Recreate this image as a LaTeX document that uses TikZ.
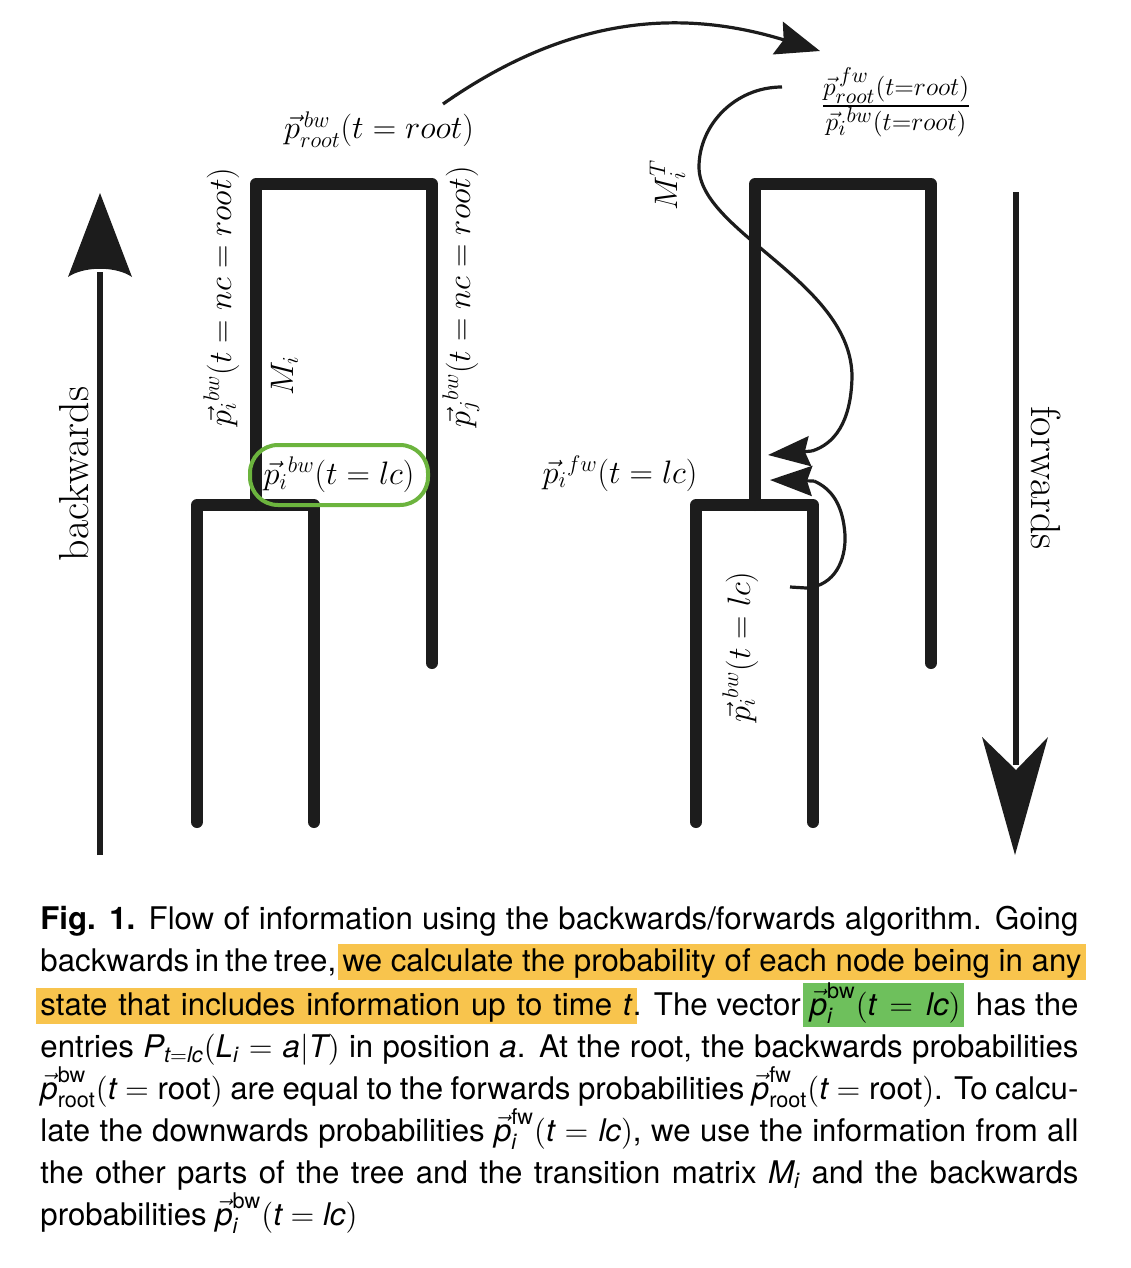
\documentclass[tikz,border=0pt]{standalone}
\usepackage{amsmath}
\usepackage{fontspec}
\newfontfamily\capfont{TeX Gyre Heros}
\usetikzlibrary{arrows.meta}
\definecolor{ink}{RGB}{28,28,28}
\definecolor{hlorange}{RGB}{248,196,77}
\definecolor{hlgreen}{RGB}{110,192,92}
\definecolor{boxgreen}{RGB}{108,180,62}
\newcommand\hlo[2][0pt]{\setbox0\hbox spread #1{#2}\rlap{\color{hlorange}\kern-2pt\rule[-4.2pt]{\dimexpr\wd0+4pt\relax}{16.6pt}}\box0}
\newcommand\hlg[2][0pt]{\setbox0\hbox spread #1{#2}\rlap{\color{hlgreen}\kern-3pt\rule[-5.5pt]{\dimexpr\wd0+4.5pt\relax}{20.3pt}}\box0}
\newcommand\jline[1]{\hbox to \hsize{#1}}
\newcommand\cp{\vec{\textit{p}}}
\newcommand\ci[1]{\textit{#1}}
\tikzset{
  tree/.style={ink, line width=6pt, line cap=round, line join=round},
  thinline/.style={ink, line width=1.6pt},
  bigshaft/.style={ink, line width=3pt},
  lbl/.style={inner sep=0pt, font=\fontsize{17.28}{21}\selectfont, scale=0.94},
  word/.style={inner sep=0pt, font=\fontsize{21}{24}\selectfont},
  smallhead/.style={-{Stealth[length=21pt,width=15pt,inset=2.5pt]}},
}
\begin{document}
\begin{tikzpicture}[x=0.5pt,y=-0.5pt]
\useasboundingbox (0,0) rectangle (1130,1268);

% ---------- left tree ----------
\draw[tree] (256,505) -- (256,184) -- (432,184) -- (432,663);
\draw[tree] (197,822) -- (197,505) -- (314,505) -- (314,822);
% ---------- right tree ----------
\draw[tree] (755,505) -- (755,184) -- (931,184) -- (931,663);
\draw[tree] (696,822) -- (696,505) -- (813,505) -- (813,822);

% ---------- big arrows ----------
\coordinate (bwS) at (100,855);
\coordinate (bwE) at (100,272);
\draw[bigshaft] (bwS) -- (bwE);
\fill[ink] (100,193) -- (132,277) .. controls (116,266) and (84,266) .. (68,277) -- cycle;

\coordinate (fwS) at (1016,192);
\coordinate (fwE) at (1016,765);
\draw[bigshaft] (fwS) -- (fwE);
\fill[ink] (1015,855) -- (982,737) -- (1016,770) -- (1048,737) -- cycle;

% ---------- labels ----------
\node[word, rotate=90, anchor=base] (backw) at (88,474) {backwards};
\node[word, rotate=-90, anchor=base] (forw) at (1031,478) {forwards};

\node[lbl, anchor=base] (lroot) at (379,139) {$\vec{p}_{root}^{\,bw}(t = root)$};
\node[lbl, rotate=90, anchor=base] (lpinc) at (231,297) {$\vec{p}_i{}^{bw}(t = nc = root)$};
\node[lbl, rotate=90, anchor=base] (lpjnc) at (470,297) {$\vec{p}_j{}^{bw}(t = nc = root)$};
\node[lbl, rotate=90, anchor=base] (lmi) at (293,376) {$M_i$};
\node[lbl, rotate=90, anchor=base] (lmit) at (677,185) {$M_i^T$};
\node[lbl, anchor=base] (lpfw) at (620,483) {$\vec{p}_i{}^{fw}(t = lc)$};
\node[lbl, rotate=90, anchor=base] (lpbwr) at (750,647) {$\vec{p}_i{}^{bw}(t = lc)$};
\node[lbl, scale=1.14, anchor=west] (lfrac) at (820,102) {$\frac{\vec{p}^{\,fw}_{root}(t=root)}{\vec{p}_i{}^{bw}(t=root)}$};

\node[inner sep=0pt, font=\fontsize{17.28}{21}\selectfont, draw=boxgreen, line width=2pt, rounded corners=14pt,
      minimum width=89pt, minimum height=30pt] (lbox) at (339,475) {\scalebox{0.94}{$\vec{p}_i{}^{bw}(t = lc)$}};

% ---------- thin arrows ----------
\coordinate (arrS) at (443,104);
\coordinate (arrE) at (820,51);
\draw[thinline, -{Stealth[length=22pt,width=17pt,inset=3pt]}] (arrS) .. controls (566,18) and (677,7) .. (arrE);

\coordinate (mtS) at (782,87);
\coordinate (mtB) at (812,451);
\coordinate (mtT) at (768,455);
\draw[thinline] (mtS) .. controls (735,87) and (699,125) .. (699,167)
   .. controls (699,232) and (852,282) .. (852,377)
   .. controls (851,423) and (834,444) .. (mtB);
\draw[thinline, smallhead] (mtB) -- (mtT);

\coordinate (lcS) at (790,587);
\coordinate (lcB) at (814,481);
\coordinate (lcT) at (770,480);
\draw[thinline] (lcS) -- (806,588) .. controls (835,586) and (846,560) .. (845,535)
   .. controls (843,505) and (832,489) .. (lcB);
\draw[thinline, smallhead] (lcB) -- (lcT);

% ---------- caption ----------
\node[anchor=base west, inner sep=0pt, scale=1.0833, font=\capfont\fontsize{14.4}{19.4}\selectfont] (caption) at (40,929) {%
\vtop{\hsize=479.1pt \baselineskip=19.385pt \parindent=0pt
\jline{\textbf{Fig. 1.} Flow of information using the backwards/forwards algorithm. Going}
\jline{backwards in the tree, \hlo{we calculate the probability of each node being in any}}
\jline{\hlo[7pt]{state that includes information up to time \ci{t}}. The vector \hlg[4pt]{$\cp_{\ci{i}}^{\text{bw}}(\ci{t} = \ci{lc})$}\kern3pt{} has the}
\jline{entries $\ci{P}_{\ci{t}=\ci{lc}}(\ci{L}_{\ci{i}} = \ci{a}|\ci{T})$ in position \ci{a}. At the root, the backwards probabilities}
\jline{$\cp_{\text{root}}^{\text{bw}}(\ci{t} = \text{root})$ are equal to the forwards probabilities $\cp_{\text{root}}^{\text{fw}}(\ci{t} = \text{root})$. To calcu-}
\jline{late the downwards probabilities $\cp_{\ci{i}}^{\text{fw}}(\ci{t} = \ci{lc})$, we use the information from all}
\jline{the other parts of the tree and the transition matrix $\ci{M}_{\ci{i}}$ and the backwards}
\hbox{probabilities $\cp_{\ci{i}}^{\text{bw}}(\ci{t} = \ci{lc})$}}};
\end{tikzpicture}
\end{document}
